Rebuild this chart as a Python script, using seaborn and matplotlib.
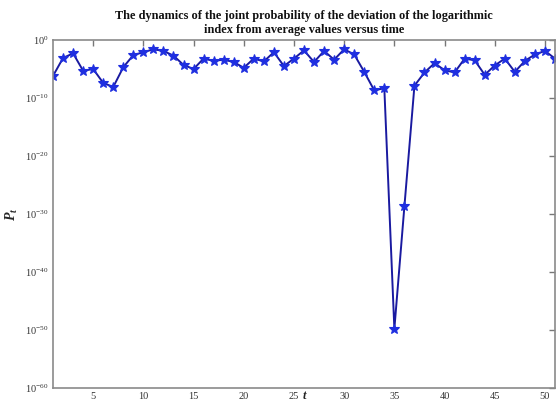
import matplotlib
matplotlib.use("Agg")
import matplotlib.pyplot as plt
import seaborn as sns
import pandas as pd
from matplotlib.ticker import LogFormatterMathtext, FixedLocator, NullLocator

t_values = list(range(1, 52))
p_values = [6.3e-07, 7.9e-04, 5.0e-03, 5.0e-06, 1.0e-05, 4.0e-08, 7.9e-09, 2.0e-05,
            2.5e-03, 7.9e-03, 2.5e-02, 1.3e-02, 2.0e-03, 5.0e-05, 1.0e-05, 6.3e-04,
            2.5e-04, 4.0e-04, 1.6e-04, 1.6e-05, 6.3e-04, 2.0e-04, 7.9e-03, 3.2e-05,
            6.3e-04, 1.6e-02, 1.6e-04, 1.3e-02, 4.0e-04, 2.5e-02, 3.2e-03, 3.2e-06,
            2.0e-09, 5.0e-09, 1.6e-50, 2.0e-29, 1.3e-08, 2.5e-06, 1.0e-04, 6.3e-06,
            2.5e-06, 6.3e-04, 3.2e-04, 1.0e-06, 4.0e-05, 6.3e-04, 3.2e-06, 2.5e-04,
            3.2e-03, 1.3e-02, 6.3e-04]
x_ticks = [5, 10, 15, 20, 25, 30, 35, 40, 45, 50]
y_ticks = [1e-60, 1e-50, 1e-40, 1e-30, 1e-20, 1e-10, 1e0]
title_text = ("The dynamics of the joint probability of the deviation of the logarithmic\n"
              "index from average values versus time")

sns.set_style("white")
plt.rcParams["font.family"] = ["Liberation Serif", "DejaVu Serif"]
plt.rcParams["mathtext.fontset"] = "custom"
plt.rcParams["mathtext.rm"] = "Liberation Serif"
plt.rcParams["mathtext.it"] = "Liberation Serif:italic"
plt.rcParams["mathtext.bf"] = "Liberation Serif:bold:italic"

df = pd.DataFrame({"t": t_values, "P": p_values})

fig = plt.figure(figsize=(5.58, 4.01), dpi=100)
ax = fig.add_axes([53 / 558, 1 - 388 / 401, (555 - 53) / 558, (388 - 40) / 401])

sns.lineplot(data=df, x="t", y="P", ax=ax, color="#1a1aa0", linewidth=1.4,
             marker="*", markersize=7, markerfacecolor="#1f2fe0",
             markeredgecolor="#1f2fe0", markeredgewidth=0.8)

ax.set_yscale("log")
ax.set_xlim(1, 51)
ax.set_ylim(1e-60, 1e0)
ax.set_xticks(x_ticks)
ax.set_xticklabels([str(v) for v in x_ticks])
ax.yaxis.set_major_locator(FixedLocator(y_ticks))
ax.yaxis.set_minor_locator(NullLocator())
ax.yaxis.set_major_formatter(LogFormatterMathtext())

for s in ax.spines.values():
    s.set_color("#8a8a8a")
    s.set_linewidth(1.2)

ax.tick_params(axis="both", which="major", direction="in", length=4, width=1,
               color="#777777", labelsize=7.5, labelcolor="#333333",
               top=True, right=True, pad=3)
ax.tick_params(axis="y", pad=3)

ax.set_xlabel("t", fontsize=9, fontweight="bold", style="italic", va="center")
ax.xaxis.set_label_coords(0.5, -0.022)
ax.set_ylabel(r"$\mathbf{P_t}$", fontsize=10)
ax.yaxis.set_label_coords(-0.065, 0.5)
ax.set_title(title_text, fontsize=8.8, fontweight="bold", pad=5,
             color="#111111", linespacing=1.25)

fig.savefig("out.png", dpi=100)
